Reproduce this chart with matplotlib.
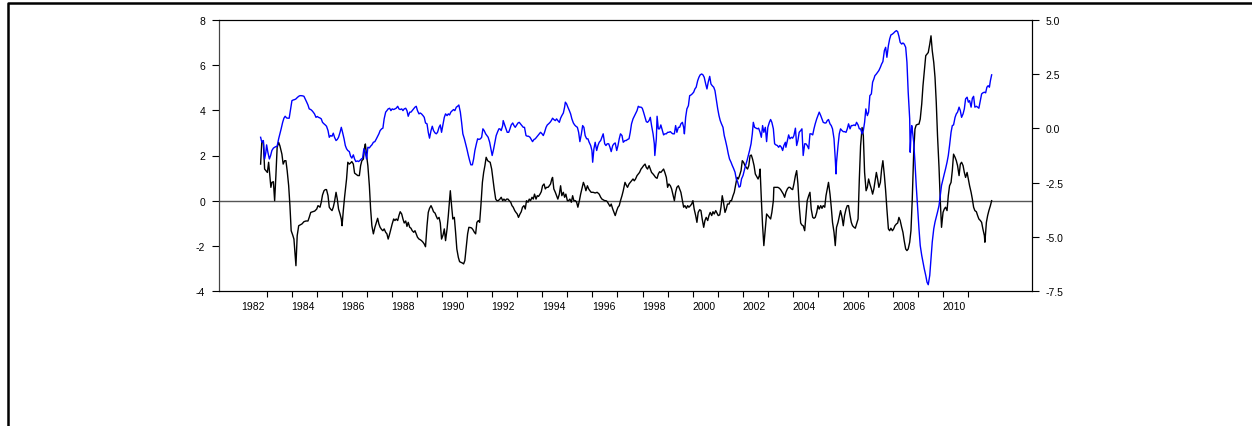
import matplotlib
matplotlib.use("Agg")
import matplotlib.pyplot as plt
from matplotlib.lines import Line2D

# observations read off the chart: (decimal year, value)
# black series -> left axis
black_obs = [
    (1982.76, 1.62), (1982.81, 2.65), (1982.87, 2.58), (1982.92, 1.40), (1982.97, 1.33),
    (1983.03, 1.25), (1983.08, 1.70), (1983.13, 1.11), (1983.17, 0.59), (1983.21, 0.81),
    (1983.27, 0.84), (1983.32, 0.00), (1983.37, 1.11), (1983.42, 2.36), (1983.48, 2.58),
    (1983.53, 2.43), (1983.61, 2.06), (1983.66, 1.62), (1983.72, 1.77), (1983.77, 1.77),
    (1983.82, 1.33), (1983.88, 0.66), (1983.93, -0.22), (1983.98, -1.33), (1984.04, -1.52),
    (1984.09, -1.70), (1984.17, -2.88), (1984.22, -1.55), (1984.28, -1.11), (1984.33, -1.08),
    (1984.41, -1.03), (1984.49, -0.93), (1984.57, -0.90), (1984.65, -0.90), (1984.70, -0.74),
    (1984.76, -0.52), (1984.84, -0.49), (1984.92, -0.46), (1985.00, -0.37), (1985.05, -0.22),
    (1985.13, -0.29), (1985.18, -0.07), (1985.23, 0.25), (1985.29, 0.44), (1985.34, 0.49),
    (1985.39, 0.49), (1985.45, 0.22), (1985.50, -0.29), (1985.55, -0.37), (1985.61, -0.44),
    (1985.66, -0.29), (1985.71, -0.04), (1985.77, 0.37), (1985.82, 0.07), (1985.87, -0.37),
    (1985.93, -0.59), (1985.98, -0.81), (1986.01, -1.11), (1986.06, -0.44), (1986.11, 0.15),
    (1986.19, 0.96), (1986.24, 1.70), (1986.30, 1.62), (1986.35, 1.67), (1986.40, 1.73),
    (1986.46, 1.62), (1986.51, 1.22), (1986.56, 1.18), (1986.64, 1.11), (1986.70, 1.11),
    (1986.75, 1.55), (1986.80, 1.77), (1986.86, 1.84), (1986.91, 2.36), (1986.94, 2.51),
    (1986.99, 1.99), (1987.04, 1.55), (1987.10, 0.66), (1987.15, -0.37), (1987.20, -1.11),
    (1987.26, -1.47),
    (1987.32, -1.18), (1987.38, -0.96), (1987.43, -0.78), (1987.48, -1.03), (1987.53, -1.18),
    (1987.59, -1.28), (1987.64, -1.33), (1987.69, -1.25), (1987.75, -1.40), (1987.80, -1.47),
    (1987.85, -1.70), (1987.91, -1.47), (1987.96, -1.25), (1988.01, -1.03), (1988.07, -0.81),
    (1988.12, -0.88), (1988.17, -0.81), (1988.23, -0.88), (1988.28, -0.66), (1988.33, -0.49),
    (1988.39, -0.59), (1988.44, -0.81), (1988.49, -0.99), (1988.55, -0.90), (1988.60, -1.14),
    (1988.65, -0.96), (1988.71, -1.18), (1988.76, -1.22), (1988.81, -1.33), (1988.87, -1.40),
    (1988.92, -1.33), (1988.97, -1.47), (1989.02, -1.62), (1989.08, -1.70), (1989.13, -1.73),
    (1989.18, -1.77), (1989.24, -1.84), (1989.29, -1.92), (1989.34, -2.04), (1989.40, -1.11),
    (1989.45, -0.52), (1989.50, -0.34), (1989.56, -0.22), (1989.61, -0.34), (1989.66, -0.49),
    (1989.72, -0.55), (1989.77, -0.69), (1989.82, -0.81), (1989.88, -0.74), (1989.93, -0.99),
    (1989.98, -1.70), (1990.04, -1.52), (1990.09, -1.25), (1990.14, -1.77), (1990.20, -1.25),
    (1990.25, -0.66), (1990.30, 0.00), (1990.33, 0.44), (1990.38, -0.22), (1990.43, -0.81),
    (1990.49, -0.74), (1990.54, -1.40), (1990.59, -2.14), (1990.65, -2.51), (1990.70, -2.70),
    (1990.75, -2.73), (1990.81, -2.76), (1990.86, -2.80), (1990.91, -2.65), (1990.97, -1.99),
    (1991.02, -1.47), (1991.07, -1.18), (1991.13, -1.19), (1991.18, -1.21), (1991.23, -1.28),
    (1991.29, -1.40), (1991.34, -1.47), (1991.39, -0.96), (1991.45, -0.88), (1991.50, -0.96),
    (1991.55, -0.22), (1991.61, 0.81), (1991.66, 1.25), (1991.71, 1.55), (1991.76, 1.92),
    (1991.82, 1.77), (1991.87, 1.73), (1991.92, 1.70), (1991.98, 1.40), (1992.03, 0.96),
    (1992.08, 0.52), (1992.14, 0.07), (1992.19, 0.00), (1992.24, 0.00),
    (1992.31, 0.07), (1992.36, 0.15), (1992.42, 0.00), (1992.47, 0.07), (1992.52, 0.00),
    (1992.58, 0.07), (1992.63, 0.07), (1992.68, 0.00), (1992.74, -0.07), (1992.79, -0.22),
    (1992.84, -0.29), (1992.90, -0.44), (1992.95, -0.52), (1993.00, -0.59), (1993.05, -0.74),
    (1993.11, -0.59), (1993.16, -0.49), (1993.21, -0.29), (1993.27, -0.22), (1993.32, -0.37),
    (1993.37, 0.00), (1993.43, -0.07), (1993.48, 0.07), (1993.53, 0.00), (1993.59, 0.15),
    (1993.64, 0.07), (1993.69, 0.29), (1993.75, 0.07), (1993.80, 0.22), (1993.85, 0.19),
    (1993.91, 0.29), (1993.96, 0.40), (1994.01, 0.66), (1994.07, 0.74), (1994.12, 0.52),
    (1994.17, 0.59), (1994.23, 0.59), (1994.28, 0.66), (1994.33, 0.74), (1994.38, 0.96),
    (1994.41, 1.03), (1994.46, 0.52), (1994.52, 0.37), (1994.57, 0.22), (1994.62, 0.07),
    (1994.68, 0.29), (1994.73, 0.66), (1994.78, 0.22), (1994.84, 0.37), (1994.89, 0.15),
    (1994.94, 0.29), (1995.00, 0.00), (1995.05, 0.00), (1995.10, 0.07), (1995.16, -0.07),
    (1995.21, 0.22), (1995.26, 0.00), (1995.32, 0.00), (1995.37, -0.07), (1995.42, -0.29),
    (1995.48, 0.00), (1995.53, 0.29), (1995.58, 0.52), (1995.64, 0.81), (1995.69, 0.66),
    (1995.74, 0.44), (1995.80, 0.66), (1995.85, 0.52), (1995.90, 0.44), (1995.95, 0.37),
    (1996.03, 0.37), (1996.11, 0.34), (1996.19, 0.37), (1996.27, 0.29), (1996.33, 0.15),
    (1996.38, 0.07), (1996.43, 0.04), (1996.49, 0.00), (1996.54, 0.00), (1996.59, -0.04),
    (1996.65, -0.15), (1996.70, -0.25), (1996.75, -0.15), (1996.81, -0.37), (1996.86, -0.52),
    (1996.91, -0.66), (1996.97, -0.44), (1997.02, -0.29), (1997.07, -0.22), (1997.12, 0.00),
    (1997.18, 0.22), (1997.23, 0.44),
    (1997.30, 0.81), (1997.35, 0.69), (1997.40, 0.59), (1997.46, 0.74), (1997.51, 0.81),
    (1997.56, 0.88), (1997.62, 0.96), (1997.67, 0.88), (1997.72, 0.96), (1997.78, 1.11),
    (1997.83, 1.18), (1997.88, 1.25), (1997.94, 1.40), (1997.99, 1.47), (1998.04, 1.55),
    (1998.10, 1.62), (1998.15, 1.47), (1998.20, 1.40), (1998.26, 1.55), (1998.31, 1.40),
    (1998.36, 1.25), (1998.42, 1.18), (1998.47, 1.11), (1998.52, 1.03), (1998.58, 0.99),
    (1998.63, 1.18), (1998.68, 1.28), (1998.73, 1.25), (1998.79, 1.33), (1998.84, 1.40),
    (1998.89, 1.25), (1998.95, 1.03), (1999.00, 0.59), (1999.05, 0.74), (1999.11, 0.66),
    (1999.16, 0.52), (1999.21, 0.29), (1999.27, 0.00), (1999.32, 0.37), (1999.37, 0.59),
    (1999.43, 0.66), (1999.48, 0.52), (1999.53, 0.37), (1999.59, 0.00), (1999.64, -0.29),
    (1999.69, -0.22), (1999.75, -0.34), (1999.80, -0.22), (1999.85, -0.29), (1999.91, -0.22),
    (1999.96, -0.15), (2000.01, 0.00), (2000.06, -0.37), (2000.12, -0.66), (2000.17, -0.96),
    (2000.22, -0.52), (2000.28, -0.40), (2000.33, -0.44), (2000.38, -0.81), (2000.44, -1.18),
    (2000.49, -0.88), (2000.54, -0.74), (2000.60, -0.88), (2000.65, -0.66), (2000.70, -0.52),
    (2000.76, -0.66), (2000.81, -0.49), (2000.86, -0.59), (2000.92, -0.44), (2000.97, -0.55),
    (2001.02, -0.66), (2001.08, -0.63), (2001.13, -0.29), (2001.18, 0.22), (2001.23, -0.07),
    (2001.29, -0.52), (2001.34, -0.37), (2001.39, -0.15), (2001.45, -0.15), (2001.50, 0.00),
    (2001.55, 0.00), (2001.61, 0.22), (2001.66, 0.37), (2001.71, 0.66), (2001.77, 1.03),
    (2001.82, 0.96), (2001.87, 1.11), (2001.93, 1.33), (2001.98, 1.77), (2002.03, 1.70),
    (2002.09, 1.55), (2002.14, 1.47), (2002.19, 1.40), (2002.24, 1.55),
    (2002.29, 1.99), (2002.34, 2.02), (2002.39, 1.84), (2002.45, 1.55), (2002.50, 1.18),
    (2002.55, 1.08), (2002.61, 0.96), (2002.66, 1.11), (2002.69, 1.40), (2002.74, 0.07),
    (2002.79, -1.11), (2002.84, -1.99), (2002.90, -1.25), (2002.95, -0.59), (2003.00, -0.66),
    (2003.06, -0.74), (2003.11, -0.81), (2003.16, -0.52), (2003.22, 0.00), (2003.24, 0.59),
    (2003.30, 0.59), (2003.35, 0.59), (2003.40, 0.59), (2003.46, 0.55), (2003.51, 0.49),
    (2003.56, 0.40), (2003.62, 0.29), (2003.67, 0.15), (2003.72, 0.37), (2003.78, 0.52),
    (2003.83, 0.59), (2003.88, 0.59), (2003.94, 0.52), (2003.99, 0.49), (2004.04, 0.74),
    (2004.10, 1.11), (2004.15, 1.33), (2004.20, 0.74), (2004.25, -0.22), (2004.31, -0.99),
    (2004.36, -1.08), (2004.41, -1.11), (2004.47, -1.33), (2004.52, -0.66), (2004.57, 0.00),
    (2004.63, 0.22), (2004.68, 0.37), (2004.73, -0.37), (2004.79, -0.74), (2004.84, -0.78),
    (2004.89, -0.74), (2004.95, -0.52), (2005.00, -0.22), (2005.05, -0.37), (2005.11, -0.22),
    (2005.16, -0.34), (2005.21, -0.22), (2005.27, -0.29), (2005.32, 0.22), (2005.37, 0.52),
    (2005.42, 0.81), (2005.48, 0.29), (2005.53, -0.29), (2005.58, -0.96), (2005.64, -1.40),
    (2005.69, -1.99), (2005.74, -1.18), (2005.80, -0.96), (2005.85, -0.69), (2005.90, -0.44),
    (2005.96, -0.74), (2006.01, -1.11), (2006.06, -0.66), (2006.12, -0.37), (2006.17, -0.22),
    (2006.22, -0.22), (2006.28, -0.66), (2006.33, -0.96), (2006.38, -1.11), (2006.44, -1.18),
    (2006.49, -1.22), (2006.54, -1.03), (2006.60, -0.81), (2006.65, 0.96), (2006.70, 2.43),
    (2006.76, 3.24), (2006.81, 2.88), (2006.86, 1.25), (2006.92, 0.44), (2006.97, 0.59),
    (2007.02, 0.96), (2007.07, 0.74), (2007.13, 0.52), (2007.18, 0.29), (2007.23, 0.52),
    (2007.29, 0.96),
    (2007.33, 1.25), (2007.38, 0.96), (2007.43, 0.59), (2007.49, 0.81), (2007.54, 1.40),
    (2007.59, 1.77), (2007.65, 1.11), (2007.70, 0.44), (2007.75, -0.37), (2007.81, -1.25),
    (2007.86, -1.33), (2007.91, -1.22), (2007.97, -1.33), (2008.02, -1.25), (2008.07, -1.11),
    (2008.13, -1.03), (2008.18, -0.99), (2008.23, -0.74), (2008.28, -0.88), (2008.34, -1.18),
    (2008.39, -1.40), (2008.44, -1.77), (2008.50, -2.14), (2008.55, -2.21), (2008.60, -2.14),
    (2008.66, -1.84), (2008.71, -1.33), (2008.76, 0.00), (2008.82, 2.14), (2008.87, 3.17),
    (2008.92, 3.35), (2008.98, 3.38), (2009.03, 3.39), (2009.08, 3.61), (2009.14, 4.28),
    (2009.19, 5.09), (2009.24, 5.68), (2009.30, 6.42), (2009.35, 6.49), (2009.40, 6.56),
    (2009.46, 6.93), (2009.51, 7.30), (2009.56, 6.64), (2009.62, 6.12), (2009.67, 5.46),
    (2009.72, 4.35), (2009.77, 2.88), (2009.83, 1.47), (2009.88, 0.00), (2009.93, -1.18),
    (2009.99, -0.52), (2010.04, -0.37), (2010.09, -0.29), (2010.15, -0.44), (2010.20, 0.22),
    (2010.25, 0.66), (2010.31, 0.81), (2010.36, 1.33), (2010.41, 2.06), (2010.47, 1.92),
    (2010.52, 1.77), (2010.57, 1.55), (2010.63, 1.11), (2010.68, 1.62), (2010.73, 1.70),
    (2010.79, 1.55), (2010.84, 1.25), (2010.89, 1.03), (2010.95, 1.25), (2011.00, 0.96),
    (2011.05, 0.66), (2011.11, 0.37), (2011.16, 0.07), (2011.21, -0.29), (2011.26, -0.44),
    (2011.32, -0.49), (2011.37, -0.66), (2011.42, -0.81), (2011.48, -0.88), (2011.53, -0.96),
    (2011.58, -1.25), (2011.64, -1.55), (2011.66, -1.84), (2011.72, -0.96), (2011.77, -0.66),
    (2011.82, -0.44), (2011.88, -0.22), (2011.93, 0.00),
]

# blue series -> right axis
blue_obs = [
    (1982.76, -0.41), (1982.81, -0.64), (1982.87, -0.56), (1982.92, -1.41), (1982.97, -1.10),
    (1983.00, -0.76), (1983.05, -1.10), (1983.11, -1.41), (1983.16, -1.25), (1983.21, -1.02),
    (1983.27, -0.91), (1983.32, -0.87), (1983.37, -0.84), (1983.42, -0.82), (1983.48, -0.48),
    (1983.53, -0.25), (1983.58, -0.02), (1983.64, 0.28), (1983.69, 0.47), (1983.74, 0.56),
    (1983.80, 0.48), (1983.85, 0.47), (1983.90, 0.47), (1983.96, 0.90), (1984.01, 1.28),
    (1984.06, 1.31), (1984.12, 1.33), (1984.17, 1.36), (1984.22, 1.42), (1984.28, 1.48),
    (1984.33, 1.51), (1984.38, 1.51), (1984.44, 1.50), (1984.49, 1.48), (1984.54, 1.36),
    (1984.60, 1.21), (1984.65, 1.08), (1984.70, 0.90), (1984.76, 0.87), (1984.81, 0.82),
    (1984.86, 0.75), (1984.91, 0.67), (1984.97, 0.51), (1985.02, 0.55), (1985.07, 0.51),
    (1985.13, 0.48), (1985.18, 0.44), (1985.23, 0.28), (1985.29, 0.21), (1985.34, 0.16),
    (1985.39, 0.10), (1985.45, -0.10), (1985.50, -0.41), (1985.55, -0.33), (1985.61, -0.36),
    (1985.66, -0.22), (1985.71, -0.41), (1985.77, -0.56), (1985.82, -0.51), (1985.87, -0.41),
    (1985.93, -0.18), (1985.98, 0.05), (1986.03, -0.18), (1986.09, -0.48), (1986.14, -0.79),
    (1986.19, -0.94), (1986.24, -1.02), (1986.30, -1.07), (1986.35, -1.28), (1986.40, -1.37),
    (1986.46, -1.22), (1986.51, -1.41), (1986.56, -1.53), (1986.62, -1.50), (1986.67, -1.53),
    (1986.72, -1.48), (1986.78, -1.41), (1986.83, -1.37), (1986.88, -0.94), (1986.94, -1.10),
    (1986.96, -1.25), (1986.99, -1.41), (1987.04, -0.87), (1987.10, -0.90), (1987.15, -0.82),
    (1987.20, -0.76), (1987.26, -0.64),
    (1987.32, -0.61), (1987.38, -0.48), (1987.43, -0.36), (1987.48, -0.25), (1987.53, -0.10),
    (1987.59, -0.02), (1987.64, 0.01), (1987.69, 0.44), (1987.75, 0.75), (1987.80, 0.82),
    (1987.85, 0.90), (1987.91, 0.93), (1987.96, 0.82), (1988.01, 0.90), (1988.07, 0.87),
    (1988.12, 0.90), (1988.17, 0.93), (1988.23, 1.02), (1988.28, 0.90), (1988.33, 0.87),
    (1988.39, 0.90), (1988.44, 0.82), (1988.49, 0.90), (1988.55, 0.93), (1988.60, 0.82),
    (1988.65, 0.56), (1988.71, 0.75), (1988.76, 0.75), (1988.81, 0.82), (1988.87, 0.90),
    (1988.92, 0.98), (1988.97, 1.02), (1989.02, 0.82), (1989.08, 0.67), (1989.13, 0.71),
    (1989.18, 0.67), (1989.24, 0.59), (1989.29, 0.51), (1989.34, 0.25), (1989.40, 0.21),
    (1989.45, -0.18), (1989.50, -0.45), (1989.56, -0.10), (1989.61, 0.10), (1989.66, -0.10),
    (1989.72, -0.21), (1989.77, -0.25), (1989.82, -0.18), (1989.88, 0.05), (1989.93, 0.16),
    (1989.98, -0.18), (1990.04, 0.21), (1990.09, 0.51), (1990.14, 0.67), (1990.20, 0.59),
    (1990.25, 0.67), (1990.30, 0.62), (1990.35, 0.75), (1990.41, 0.82), (1990.46, 0.87),
    (1990.51, 0.82), (1990.57, 0.98), (1990.62, 1.02), (1990.67, 1.08), (1990.73, 0.75),
    (1990.78, 0.28), (1990.83, -0.25), (1990.89, -0.48), (1990.94, -0.71), (1990.99, -0.94),
    (1991.05, -1.25), (1991.10, -1.48), (1991.15, -1.68), (1991.21, -1.68), (1991.26, -1.41),
    (1991.31, -1.02), (1991.37, -0.71), (1991.42, -0.48), (1991.47, -0.51), (1991.53, -0.48),
    (1991.58, -0.41), (1991.63, -0.02), (1991.68, -0.10), (1991.74, -0.25), (1991.79, -0.33),
    (1991.84, -0.41), (1991.90, -0.64), (1991.95, -0.94), (1992.00, -1.25), (1992.06, -0.94),
    (1992.11, -0.64), (1992.16, -0.33), (1992.22, -0.15), (1992.27, -0.02),
    (1992.31, -0.02), (1992.36, -0.10), (1992.42, 0.13), (1992.44, 0.36), (1992.50, 0.16),
    (1992.55, -0.02), (1992.60, -0.18), (1992.66, -0.18), (1992.71, -0.02), (1992.76, 0.16),
    (1992.82, 0.25), (1992.87, 0.13), (1992.92, 0.05), (1992.98, 0.16), (1993.03, 0.25),
    (1993.08, 0.28), (1993.13, 0.21), (1993.19, 0.13), (1993.24, 0.05), (1993.29, 0.05),
    (1993.35, -0.33), (1993.40, -0.36), (1993.45, -0.36), (1993.51, -0.41), (1993.56, -0.51),
    (1993.61, -0.61), (1993.67, -0.51), (1993.72, -0.48), (1993.77, -0.41), (1993.83, -0.33),
    (1993.88, -0.25), (1993.93, -0.18), (1993.99, -0.25), (1994.04, -0.33), (1994.09, -0.18),
    (1994.15, 0.05), (1994.20, 0.16), (1994.25, 0.21), (1994.31, 0.28), (1994.36, 0.36),
    (1994.41, 0.47), (1994.46, 0.41), (1994.52, 0.36), (1994.57, 0.44), (1994.62, 0.36),
    (1994.68, 0.28), (1994.73, 0.47), (1994.78, 0.59), (1994.84, 0.71), (1994.89, 0.98),
    (1994.92, 1.21), (1994.97, 1.13), (1995.02, 0.98), (1995.08, 0.82), (1995.13, 0.67),
    (1995.18, 0.44), (1995.24, 0.25), (1995.29, 0.16), (1995.34, 0.10), (1995.40, 0.05),
    (1995.45, -0.18), (1995.50, -0.61), (1995.56, -0.25), (1995.61, 0.13), (1995.66, 0.05),
    (1995.71, -0.33), (1995.77, -0.48), (1995.82, -0.48), (1995.87, -0.64), (1995.93, -0.79),
    (1995.98, -1.02), (1996.01, -1.56), (1996.06, -0.94), (1996.11, -0.64), (1996.17, -1.02),
    (1996.22, -0.79), (1996.27, -0.64), (1996.33, -0.56), (1996.38, -0.41), (1996.43, -0.25),
    (1996.49, -0.71), (1996.54, -0.79), (1996.59, -0.71), (1996.65, -0.71), (1996.70, -0.87),
    (1996.75, -1.07), (1996.81, -0.79), (1996.86, -0.71), (1996.91, -0.67), (1996.97, -1.02),
    (1997.02, -0.79), (1997.07, -0.48), (1997.12, -0.25), (1997.18, -0.33), (1997.23, -0.64),
    (1997.30, -0.56), (1997.35, -0.56), (1997.40, -0.51), (1997.46, -0.48), (1997.51, -0.18),
    (1997.56, 0.21), (1997.62, 0.44), (1997.67, 0.56), (1997.72, 0.67), (1997.78, 0.82),
    (1997.83, 1.02), (1997.88, 0.98), (1997.94, 0.98), (1997.99, 0.93), (1998.04, 0.75),
    (1998.10, 0.51), (1998.15, 0.31), (1998.20, 0.28), (1998.26, 0.36), (1998.31, 0.51),
    (1998.36, 0.13), (1998.42, -0.25), (1998.47, -0.71), (1998.49, -1.25), (1998.55, -0.48),
    (1998.58, 0.56), (1998.63, -0.02), (1998.68, -0.02), (1998.73, 0.16), (1998.79, -0.10),
    (1998.84, -0.30), (1998.89, -0.25), (1998.95, -0.25), (1999.00, -0.18), (1999.05, -0.18),
    (1999.11, -0.15), (1999.16, -0.21), (1999.21, -0.25), (1999.27, -0.25), (1999.32, 0.13),
    (1999.37, -0.18), (1999.43, 0.05), (1999.48, 0.05), (1999.53, 0.21), (1999.59, 0.28),
    (1999.64, 0.05), (1999.67, -0.25), (1999.72, 0.51), (1999.77, 0.90), (1999.83, 1.05),
    (1999.88, 1.51), (1999.93, 1.54), (1999.98, 1.59), (2000.04, 1.67), (2000.09, 1.82),
    (2000.14, 1.90), (2000.20, 2.20), (2000.25, 2.36), (2000.30, 2.47), (2000.36, 2.51),
    (2000.41, 2.47), (2000.46, 2.36), (2000.52, 2.05), (2000.57, 1.82), (2000.62, 2.13),
    (2000.68, 2.40), (2000.73, 2.05), (2000.78, 1.97), (2000.84, 1.90), (2000.89, 1.74),
    (2000.94, 1.36), (2001.00, 0.90), (2001.05, 0.59), (2001.10, 0.36), (2001.15, 0.21),
    (2001.21, 0.05), (2001.26, -0.33), (2001.31, -0.56), (2001.37, -0.87), (2001.42, -1.17),
    (2001.47, -1.41), (2001.53, -1.56), (2001.58, -1.71), (2001.63, -1.84), (2001.69, -2.02),
    (2001.74, -2.33), (2001.79, -2.45), (2001.85, -2.71), (2001.90, -2.67), (2001.95, -2.33),
    (2002.01, -2.17), (2002.06, -1.94), (2002.11, -1.71), (2002.17, -1.48), (2002.22, -1.25),
    (2002.27, -1.02), (2002.33, -0.71), (2002.38, -0.25),
    (2002.42, 0.28), (2002.47, 0.05), (2002.53, 0.01), (2002.58, -0.02), (2002.63, 0.01),
    (2002.69, -0.18), (2002.74, -0.41), (2002.79, 0.13), (2002.84, -0.18), (2002.90, 0.05),
    (2002.95, -0.61), (2003.00, 0.05), (2003.06, 0.28), (2003.11, 0.41), (2003.16, 0.28),
    (2003.22, -0.02), (2003.27, -0.71), (2003.32, -0.76), (2003.38, -0.79), (2003.43, -0.87),
    (2003.48, -0.79), (2003.54, -0.87), (2003.59, -1.02), (2003.64, -0.79), (2003.70, -0.64),
    (2003.72, -0.87), (2003.78, -0.56), (2003.83, -0.30), (2003.88, -0.48), (2003.94, -0.41),
    (2003.99, -0.45), (2004.04, -0.33), (2004.10, 0.01), (2004.15, -0.79), (2004.20, -0.56),
    (2004.25, -0.18), (2004.31, -0.10), (2004.36, -0.02), (2004.41, -1.25), (2004.47, -0.71),
    (2004.52, -0.71), (2004.57, -0.79), (2004.63, -0.94), (2004.68, -0.25), (2004.73, -0.25),
    (2004.79, -0.30), (2004.84, -0.02), (2004.89, 0.21), (2004.95, 0.44), (2005.00, 0.59),
    (2005.05, 0.75), (2005.11, 0.59), (2005.16, 0.44), (2005.21, 0.28), (2005.27, 0.25),
    (2005.32, 0.25), (2005.37, 0.36), (2005.42, 0.41), (2005.48, 0.21), (2005.53, 0.13),
    (2005.58, -0.02), (2005.64, -0.48), (2005.69, -1.41), (2005.72, -2.10), (2005.74, -1.56),
    (2005.80, -0.79), (2005.85, -0.25), (2005.90, -0.02), (2005.96, -0.10), (2006.01, -0.15),
    (2006.06, -0.15), (2006.12, -0.18), (2006.17, -0.02), (2006.22, 0.21), (2006.28, -0.02),
    (2006.33, 0.13), (2006.38, 0.13), (2006.44, 0.16), (2006.49, 0.13), (2006.54, 0.28),
    (2006.60, 0.16), (2006.65, -0.02), (2006.70, -0.02), (2006.76, -0.25), (2006.81, -0.10),
    (2006.86, 0.28), (2006.91, 0.90), (2006.97, 0.59), (2007.02, 0.75), (2007.07, 1.51),
    (2007.13, 1.59), (2007.18, 2.13), (2007.23, 2.28),
    (2007.27, 2.43), (2007.33, 2.51), (2007.38, 2.59), (2007.43, 2.67), (2007.49, 2.82),
    (2007.54, 2.97), (2007.59, 3.08), (2007.65, 3.59), (2007.70, 3.74), (2007.75, 3.28),
    (2007.81, 3.82), (2007.86, 4.12), (2007.91, 4.31), (2007.97, 4.35), (2008.02, 4.40),
    (2008.07, 4.46), (2008.13, 4.51), (2008.18, 4.46), (2008.23, 4.25), (2008.28, 3.97),
    (2008.34, 3.89), (2008.39, 3.94), (2008.44, 3.89), (2008.50, 3.74), (2008.55, 3.05),
    (2008.60, 1.67), (2008.66, 0.44), (2008.68, -1.10), (2008.71, -0.33), (2008.74, 0.13),
    (2008.76, -0.02), (2008.82, -0.64), (2008.87, -1.56), (2008.92, -2.63), (2008.98, -3.71),
    (2009.03, -4.63), (2009.08, -5.40), (2009.14, -5.86), (2009.19, -6.17), (2009.24, -6.47),
    (2009.30, -6.78), (2009.35, -7.09), (2009.40, -7.21), (2009.46, -6.78), (2009.51, -6.01),
    (2009.56, -5.24), (2009.62, -4.63), (2009.67, -4.32), (2009.72, -4.09), (2009.77, -3.86),
    (2009.83, -3.56), (2009.88, -3.10), (2009.93, -2.63), (2009.99, -2.33), (2010.04, -2.10),
    (2010.09, -1.87), (2010.15, -1.56), (2010.20, -1.25), (2010.25, -0.79), (2010.31, -0.18),
    (2010.36, 0.13), (2010.41, 0.16), (2010.47, 0.51), (2010.52, 0.67), (2010.57, 0.75),
    (2010.63, 0.98), (2010.68, 0.82), (2010.73, 0.51), (2010.79, 0.67), (2010.84, 0.90),
    (2010.89, 1.36), (2010.95, 1.44), (2011.00, 1.21), (2011.05, 1.28), (2011.11, 0.98),
    (2011.16, 1.39), (2011.21, 1.48), (2011.26, 0.98), (2011.32, 1.02), (2011.37, 0.98),
    (2011.42, 0.93), (2011.48, 1.28), (2011.53, 1.59), (2011.58, 1.64), (2011.64, 1.67),
    (2011.69, 1.64), (2011.74, 1.90), (2011.79, 1.97), (2011.84, 1.90), (2011.88, 2.20),
    (2011.93, 2.47),
]

left_ticks = [-4, -2, 0, 2, 4, 6, 8]
right_ticks = [-7.5, -5.0, -2.5, 0.0, 2.5, 5.0]
tick_years = list(range(1983, 2012))
label_years = list(range(1982, 2011, 2))

plt.rcParams['font.family'] = ['Liberation Sans', 'DejaVu Sans']
plt.rcParams['axes.unicode_minus'] = False

W, H = 1252, 427
fig = plt.figure(figsize=(W / 100, H / 100), dpi=100)
ax = fig.add_axes([219 / W, 1 - 292 / H, (1032 - 219) / W, (292 - 21) / H])
ax2 = ax.twinx()

bx, by = zip(*black_obs)
ux, uy = zip(*blue_obs)

ax.axhline(0, color='#555555', lw=1.0, zorder=1)
ax.plot(bx, by, color='black', lw=1.0, zorder=3)
ax2.plot(ux, uy, color='#0000ff', lw=1.0)

ax.set_xlim(1981.10, 2013.54)
ax.set_ylim(-4, 8)
ax.set_yticks(left_ticks)
ax.set_yticklabels([str(v) for v in left_ticks])
ax2.set_ylim(-7.5, 5.0)
ax2.set_yticks(right_ticks)
ax2.set_yticklabels(['%.1f' % v for v in right_ticks])

# ticks at year boundaries, labels centred over the year
ax.set_xticks(tick_years)
ax.set_xticklabels([])
ax.set_xticks([y + 0.45 for y in label_years], minor=True)
ax.set_xticklabels([str(y) for y in label_years], minor=True)
ax.tick_params(axis='x', which='major', direction='out', length=4, width=0.8)
ax.tick_params(axis='x', which='minor', length=0, pad=7, labelsize=7.5)
ax.tick_params(axis='y', direction='out', length=5, width=0.8, pad=5, labelsize=7.5)
ax2.tick_params(axis='y', direction='out', length=5, width=0.8, pad=5, labelsize=7.5)

for a in (ax, ax2):
    for s in a.spines.values():
        s.set_linewidth(0.8)
ax.spines['left'].set_color('#444444')
ax2.spines['left'].set_color('#444444')

# outer border (left and top edges)
fig.add_artist(Line2D([8 / W, 8 / W, 1.0], [0.0, 1 - 4 / H, 1 - 4 / H],
                      transform=fig.transFigure, color='black', lw=1.8))

fig.savefig('out.png', dpi=100)
